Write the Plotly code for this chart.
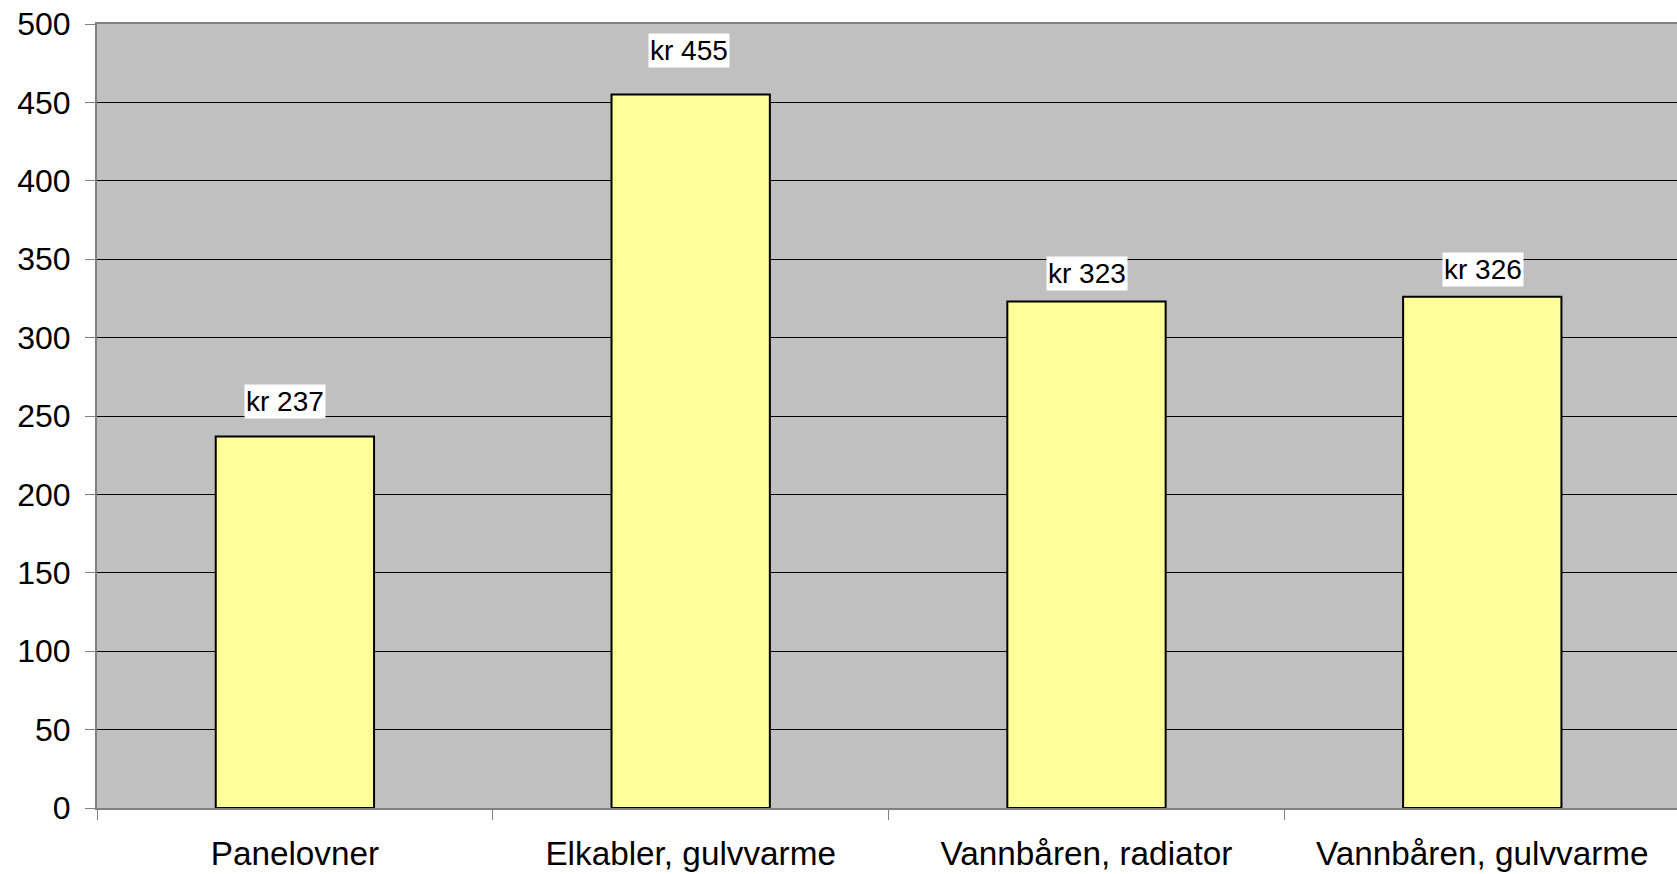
import plotly.graph_objects as go

# Heating systems and their cost (kr)
categories = ["Panelovner", "Elkabler, gulvvarme", "Vannbåren, radiator", "Vannbåren, gulvvarme"]
costs = [237, 455, 323, 326]
value_labels = ["kr 237", "kr 455", "kr 323", "kr 326"]

# Label nudges (px) relative to the top of each bar
label_dx = [-10, -2, 1, 1]
label_dy = [35, 44, 28, 27]

FONT = "Liberation Sans, Arial, sans-serif"

fig = go.Figure(
    go.Bar(
        x=categories,
        y=costs,
        width=0.4,
        marker=dict(color="#FFFF99", line=dict(color="black", width=2)),
        hoverinfo="skip",
    )
)

for cat, val, txt, dx, dy in zip(categories, costs, value_labels, label_dx, label_dy):
    fig.add_annotation(
        x=cat, y=val, text=txt, showarrow=False,
        xanchor="center", yanchor="middle",
        xshift=dx, yshift=dy,
        bgcolor="white", borderpad=1,
        font=dict(family=FONT, size=28, color="black"),
    )

fig.update_layout(
    width=1677, height=874,
    margin=dict(l=97, r=0, t=24, b=66),
    paper_bgcolor="white",
    plot_bgcolor="#C0C0C0",
    showlegend=False,
    bargap=0.6,
)

# the last category runs a few pixels past the right edge of the page
fig.update_xaxes(
    range=[-0.5, 3.492],
    tickson="boundaries",
    ticks="outside", ticklen=10, tickcolor="#808080", tickwidth=1,
    showline=True, linecolor="#808080", linewidth=2, mirror=True,
    showgrid=False,
    tickfont=dict(family=FONT, size=33.3, color="black"),
    ticklabelstandoff=15,
)

fig.update_yaxes(
    range=[0, 500], dtick=50,
    ticks="outside", ticklen=10, tickcolor="#808080", tickwidth=1,
    showline=True, linecolor="#808080", linewidth=2,
    showgrid=True, gridcolor="black", gridwidth=1,
    zeroline=False,
    tickfont=dict(family=FONT, size=32, color="black"),
    ticklabelstandoff=8,
)

fig.write_html("out.html")
